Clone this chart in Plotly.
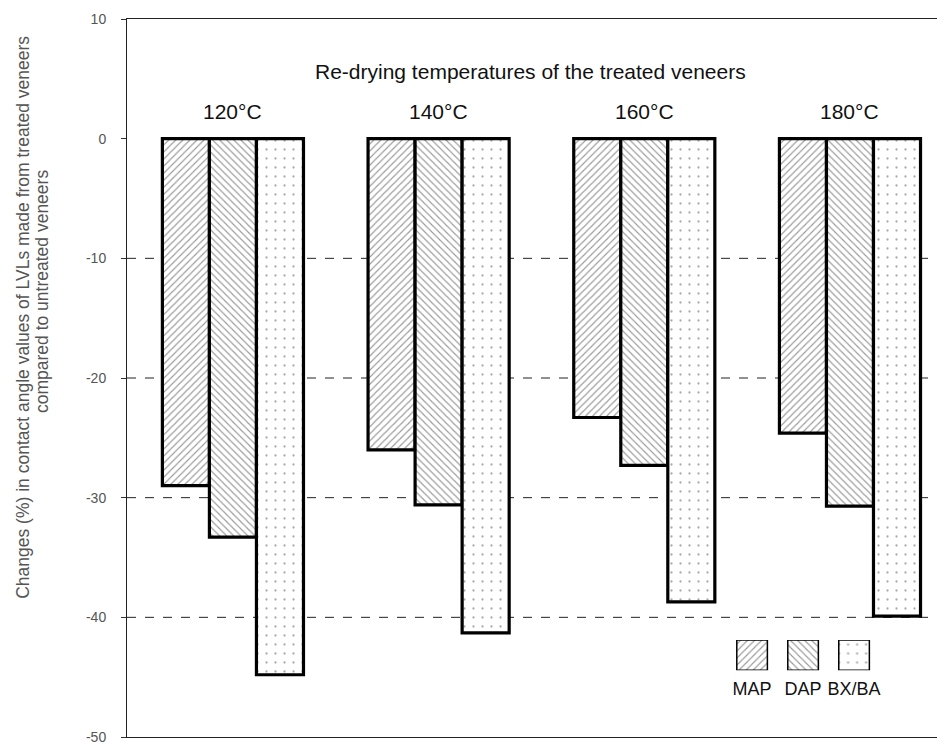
import plotly.graph_objects as go

groups = ["120°C", "140°C", "160°C", "180°C"]
series = ["MAP", "DAP", "BX/BA"]
map_vals = [-29.0, -26.0, -23.3, -24.6]
dap_vals = [-33.3, -30.6, -27.3, -30.7]
bx_vals = [-44.8, -41.3, -38.7, -39.9]
ytick_vals = [10, 0, -10, -20, -30, -40, -50]
ytick_text = ["10", "0", "-10", "-20", "-30", "-40", "-50"]
grid_vals = [-10, -20, -30, -40]
title_text = "Re-drying temperatures of the treated veneers"
ytitle_line1 = "Changes (%) in contact angle values of LVLs made from treated veneers"
ytitle_line2 = "compared to untreated veneers"

patterns = [
    dict(shape="/", size=5, solidity=0.22, fgcolor="#333", bgcolor="white"),
    dict(shape="\\", size=5, solidity=0.22, fgcolor="#333", bgcolor="white"),
    dict(shape=".", size=9, solidity=0.05, fgcolor="#555", bgcolor="white"),
]

xpos = list(range(len(groups)))
fig = go.Figure()
for name, vals, pat in zip(series, [map_vals, dap_vals, bx_vals], patterns):
    fig.add_trace(go.Bar(
        x=xpos, y=vals, name=name, marker=dict(color="white", pattern=pat,
        line=dict(color="black", width=3.2)), showlegend=False))

# legend inset bars
for name, pat in zip(series, patterns):
    fig.add_trace(go.Bar(
        x=[name], y=[1], xaxis="x2", yaxis="y2", showlegend=False, width=0.6,
        marker=dict(color="white", pattern=pat, line=dict(color="black", width=1.5))))

for g in grid_vals:
    fig.add_shape(type="line", xref="paper", x0=0, x1=1, yref="y", y0=g, y1=g,
                  line=dict(color="#222", width=1, dash="dash"), layer="below")

annotations = []
for i, g in enumerate(groups):
    annotations.append(dict(x=i, y=2.3, xref="x", yref="y", text=g, showarrow=False,
                            font=dict(size=21, color="#111")))
annotations.append(dict(x=0.493, y=5.6, xref="paper", yref="y", text=title_text,
                        showarrow=False, font=dict(size=21, color="#111")))
annotations.append(dict(x=-0.127, y=0.584, xref="paper", yref="paper", text=ytitle_line1,
                        xanchor="center", yanchor="middle",
                        textangle=-90, showarrow=False, font=dict(size=17.5, color="#555")))
annotations.append(dict(x=-0.104, y=0.621, xref="paper", yref="paper", text=ytitle_line2,
                        xanchor="center", yanchor="middle",
                        textangle=-90, showarrow=False, font=dict(size=17.5, color="#555")))

fig.update_layout(
    width=937, height=738,
    margin=dict(l=119, r=0, t=11, b=9),
    paper_bgcolor="white", plot_bgcolor="white",
    font=dict(family="Liberation Sans, Arial, sans-serif"),
    barmode="group", bargap=0.314, bargroupgap=0,
    annotations=annotations,
    xaxis=dict(range=[-0.515, 3.462], showticklabels=False, ticks="", showgrid=False,
               zeroline=False, showline=True, mirror=True, linecolor="#222", linewidth=1),
    yaxis=dict(range=[-50, 10], tickvals=ytick_vals, ticktext=ytick_text, ticks="outside",
               ticklen=5, tickcolor="#333", showgrid=False, zeroline=False, showline=True,
               linecolor="#222", linewidth=1, tickfont=dict(size=14, color="#555"),
               ticklabelstandoff=12),
    xaxis2=dict(domain=[0.733, 0.920], anchor="y2", type="category", showgrid=False,
                zeroline=False, showline=False, ticks="", tickfont=dict(size=18, color="#111"),
                ticklabelstandoff=6),
    yaxis2=dict(domain=[0.093, 0.135], anchor="x2", range=[0, 1], visible=False),
)

fig.write_html("out.html")
